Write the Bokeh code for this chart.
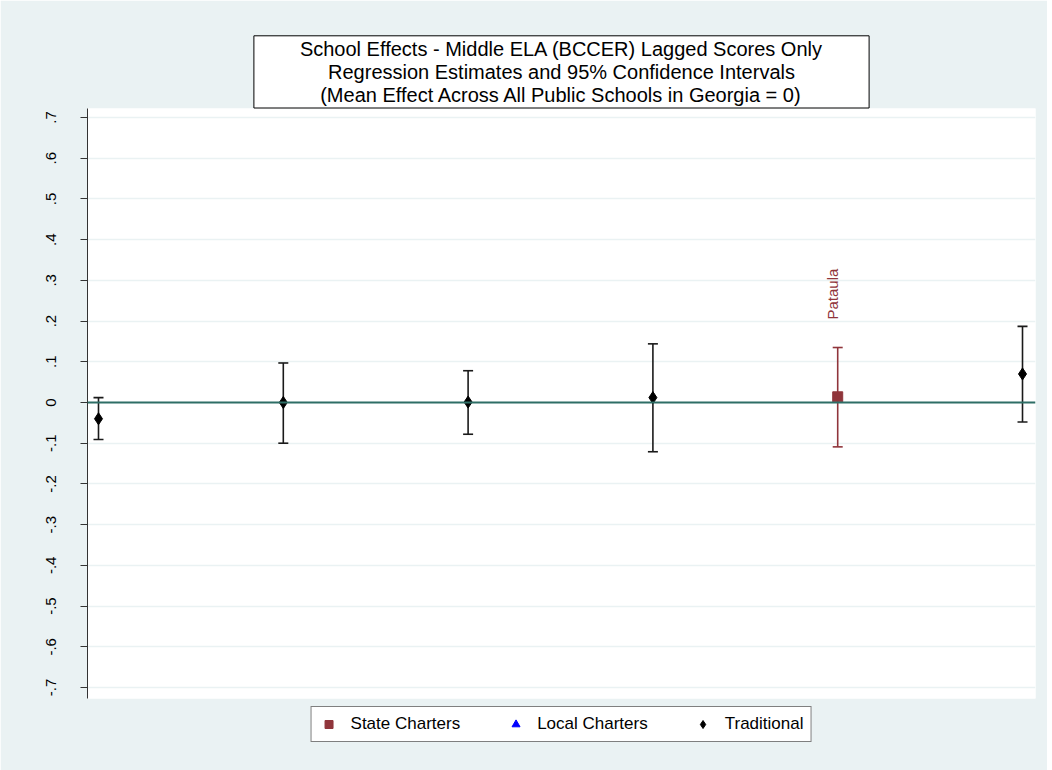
import math
from bokeh.plotting import figure
from bokeh.models import (Whisker, TeeHead, ColumnDataSource, Legend, LegendItem,
                          FixedTicker, Title, Span, Range1d)
from bokeh.core.properties import value
from bokeh.embed import file_html
from bokeh.resources import INLINE

# ---- data ----
school_pos = [1, 2, 3, 4, 5, 6]
school_type = ["Traditional", "Traditional", "Traditional", "Traditional", "State Charters", "Traditional"]
school_name = ["", "", "", "", "Pataula", ""]
estimate = [-0.040, 0.000, 0.001, 0.012, 0.014, 0.070]
ci_low = [-0.091, -0.100, -0.078, -0.121, -0.109, -0.048]
ci_high = [0.012, 0.097, 0.078, 0.144, 0.135, 0.187]
tick_labels = [".7", ".6", ".5", ".4", ".3", ".2", ".1", "0",
               "-.1", "-.2", "-.3", "-.4", "-.5", "-.6", "-.7"]
title_lines = ["School Effects - Middle ELA (BCCER) Lagged Scores Only",
               "Regression Estimates and 95% Confidence Intervals",
               "(Mean Effect Across All Public Schools in Georgia = 0)"]
legend_names = ["State Charters", "Local Charters", "Traditional"]

BG = "#EAF2F3"
FONT = "Liberation Sans"
MAROON = "#90353B"
TEAL = "#2E6E66"

tick_vals = [float(t) for t in tick_labels]

p = figure(frame_width=948, frame_height=590, output_backend="svg", toolbar_location=None,
           x_axis_location=None, tools="",
           x_range=Range1d(0.9405, 6.0703), y_range=Range1d(-0.727, 0.722),
           min_border_left=87, min_border_right=12, min_border_top=108,
           min_border_bottom=67)
p.background_fill_color = "white"
p.border_fill_color = BG
p.outline_line_color = None
p.xgrid.visible = False
p.ygrid.grid_line_color = BG
p.ygrid.grid_line_width = 1.5

ax = p.yaxis[0]
ax.ticker = FixedTicker(ticks=tick_vals)
ax.major_label_overrides = {v: t for v, t in zip(tick_vals, tick_labels)}
ax.major_label_orientation = "vertical"
ax.major_label_text_font = FONT
ax.major_label_text_font_size = "15px"
ax.major_label_text_color = "black"
ax.major_label_standoff = 24
ax.major_tick_out = 7
ax.major_tick_in = 0
ax.minor_tick_out = 0
ax.minor_tick_in = 0
ax.axis_line_color = "#333333"
ax.major_tick_line_color = "#333333"
ax.axis_line_width = 1

# zero line
p.add_layout(Span(location=0, dimension="width", line_color=TEAL, line_width=2))

# title box
t = Title(text="\n".join(title_lines), align="center", text_align="center",
          text_font=FONT, text_font_size="20px", text_font_style="normal",
          text_color="black", text_line_height=1.05,
          border_line_color="black", border_line_width=1,
          background_fill_color="white", padding=(46, 2), standoff=1)
p.add_layout(t, "above")

bar_colors = {"State Charters": MAROON, "Local Charters": "blue", "Traditional": "#1a1a1a"}

renderers = {}
for name in legend_names:
    idx = [i for i, s in enumerate(school_type) if s == name]
    xs = [school_pos[i] for i in idx]
    ys = [estimate[i] for i in idx]
    if not idx:
        xs, ys = [float("nan")], [float("nan")]
    src = ColumnDataSource(dict(x=xs, y=ys))
    c = bar_colors[name]
    if idx:
        wsrc = ColumnDataSource(dict(x=xs, lo=[ci_low[i] for i in idx],
                                     hi=[ci_high[i] for i in idx]))
        w = Whisker(base="x", lower="lo", upper="hi", source=wsrc, dimension="height",
                    line_color=c, line_width=1.6,
                    upper_head=TeeHead(size=10, line_color=c, line_width=1.6),
                    lower_head=TeeHead(size=10, line_color=c, line_width=1.6))
        p.add_layout(w)
    if name == "State Charters":
        r = p.scatter("x", "y", source=src, marker="square", size=10,
                      fill_color=MAROON, line_color=MAROON)
    elif name == "Local Charters":
        r = p.scatter("x", "y", source=src, marker="triangle", size=7,
                      fill_color="blue", line_color="blue")
    else:
        r = p.scatter("x", "y", source=src, marker="diamond", size=12,
                      fill_color="black", line_color="black")
    renderers[name] = r

# point label
lab_idx = [i for i, n in enumerate(school_name) if n]
lab_src = ColumnDataSource(dict(x=[school_pos[i] for i in lab_idx],
                                y=[ci_high[i] for i in lab_idx],
                                text=[school_name[i] for i in lab_idx]))
p.text("x", "y", text="text", source=lab_src, angle=math.pi / 2,
       text_font=value(FONT), text_font_size="15px", text_color=MAROON,
       text_align="left", text_baseline="alphabetic", y_offset=-28, x_offset=-5)

legend = Legend(items=[LegendItem(label=n, renderers=[renderers[n]]) for n in legend_names],
                orientation="horizontal", location="top",
                label_text_font=FONT, label_text_font_size="17px",
                label_text_color="black",
                border_line_color="black", border_line_width=1.2,
                background_fill_color="white", background_fill_alpha=1,
                padding=7, spacing=45, label_standoff=12, glyph_width=20,
                glyph_height=20, margin=8)
p.add_layout(legend, "below")

open("out.html", "w").write(file_html(p, INLINE))
